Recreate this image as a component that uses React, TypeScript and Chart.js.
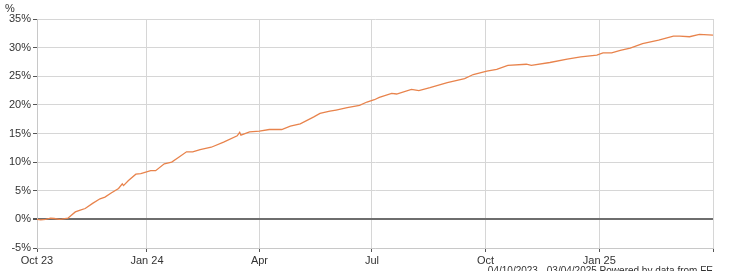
import React, { useEffect, useRef } from "react";
import { Chart, registerables } from "chart.js";

Chart.register(...registerables);

const START_DATE = "2023-10-04";
const END_DATE = "2025-04-03";

const dates: string[] = [
  "2023-10-04", "2023-10-07", "2023-10-11", "2023-10-15", "2023-10-18", "2023-10-22",
  "2023-10-24", "2023-10-29", "2023-11-04", "2023-11-08", "2023-11-12", "2023-11-18",
  "2023-11-24", "2023-11-28", "2023-12-03", "2023-12-09", "2023-12-12", "2023-12-13",
  "2023-12-17", "2023-12-23", "2023-12-27", "2024-01-04", "2024-01-08", "2024-01-15",
  "2024-01-21", "2024-01-27", "2024-02-02", "2024-02-07", "2024-02-13", "2024-02-22",
  "2024-03-03", "2024-03-14", "2024-03-16", "2024-03-17", "2024-03-24", "2024-04-01",
  "2024-04-09", "2024-04-19", "2024-04-26", "2024-05-04", "2024-05-15", "2024-05-20",
  "2024-05-28", "2024-06-02", "2024-06-11", "2024-06-21", "2024-06-27", "2024-07-03",
  "2024-07-07", "2024-07-17", "2024-07-21", "2024-08-02", "2024-08-08", "2024-08-17",
  "2024-08-31", "2024-09-14", "2024-09-21", "2024-10-02", "2024-10-10", "2024-10-19",
  "2024-11-03", "2024-11-07", "2024-11-22", "2024-12-06", "2024-12-17", "2024-12-30",
  "2025-01-04", "2025-01-11", "2025-01-18", "2025-01-26", "2025-02-05", "2025-02-18",
  "2025-03-02", "2025-03-07", "2025-03-15", "2025-03-23", "2025-04-03",
];

const values: number[] = [
  0.0, -0.1, 0.0, 0.2, 0.15, 0.0,
  0.05, 0.2, 1.3, 1.6, 1.9, 2.8,
  3.6, 3.9, 4.6, 5.4, 6.2, 5.9,
  6.8, 7.9, 8.0, 8.5, 8.5, 9.7,
  10.0, 10.9, 11.8, 11.8, 12.2, 12.6,
  13.5, 14.6, 15.2, 14.7, 15.3, 15.4,
  15.7, 15.7, 16.3, 16.7, 17.9, 18.5,
  18.9, 19.1, 19.5, 19.9, 20.5, 20.9,
  21.3, 22.0, 21.9, 22.7, 22.5, 23.0,
  23.9, 24.6, 25.3, 25.9, 26.2, 26.9,
  27.1, 26.9, 27.4, 28.0, 28.4, 28.7,
  29.1, 29.1, 29.5, 29.9, 30.7, 31.3,
  32.0, 32.0, 31.9, 32.3, 32.2,
];

const tickDates: string[] = [
  "2023-10-04", "2024-01-01", "2024-04-01", "2024-07-01", "2024-10-01", "2025-01-01", "2025-04-03",
];
const tickLabels: string[] = ["Oct 23", "Jan 24", "Apr", "Jul", "Oct", "Jan 25", ""];

const yTicks: number[] = [-5, 0, 5, 10, 15, 20, 25, 30, 35];
const footerText = "04/10/2023 - 03/04/2025 Powered by data from FE";
const unitLabel = "%";

const DAY = 86400000;
const dayIndex = (s: string) => Math.round((Date.parse(s + "T00:00:00Z") - Date.parse(START_DATE + "T00:00:00Z")) / DAY);

export default function App() {
  const ref = useRef<HTMLCanvasElement | null>(null);

  useEffect(() => {
    if (!ref.current) return;
    const font = { family: "'Liberation Sans', Arial, sans-serif", size: 11 };
    const tickVals = tickDates.map(dayIndex);
    const textPlugin = {
      id: "extraText",
      afterDraw(chart: any) {
        const c = chart.ctx;
        c.save();
        c.fillStyle = "#333";
        c.font = "11px 'Liberation Sans', Arial, sans-serif";
        c.textBaseline = "alphabetic";
        c.textAlign = "left";
        c.fillText(unitLabel, 5, 12);
        c.font = "10px 'Liberation Sans', Arial, sans-serif";
        c.textAlign = "right";
        c.fillText(footerText, 713, 274);
        c.restore();
      },
    };
    const chart = new Chart(ref.current, {
      type: "line",
      data: {
        datasets: [
          {
            data: dates.map((d, i) => ({ x: dayIndex(d), y: values[i] })),
            borderColor: "#e8834c",
            borderWidth: 1.3,
            pointRadius: 0,
            tension: 0,
            fill: false,
          },
        ],
      },
      options: {
        animation: false,
        responsive: false,
        maintainAspectRatio: false,
        layout: { padding: { top: 19, right: 18, left: 0, bottom: 0 } },
        plugins: { legend: { display: false }, tooltip: { enabled: false } },
        scales: {
          x: {
            type: "linear",
            min: 0,
            max: dayIndex(END_DATE),
            afterBuildTicks: (axis: any) => {
              axis.ticks = tickVals.map((v) => ({ value: v }));
            },
            afterFit: (axis: any) => {
              axis.height = 23;
            },
            ticks: {
              autoSkip: false,
              maxRotation: 0,
              padding: 2,
              color: "#333",
              font,
              callback: (v: any) => {
                const i = tickVals.indexOf(Number(v));
                return i >= 0 ? tickLabels[i] : "";
              },
            },
            grid: { color: "#d6d6d6", tickColor: "#555", tickLength: 4, lineWidth: 1 },
            border: { color: "#c8c8c8" },
          },
          y: {
            min: -5,
            max: 35,
            afterBuildTicks: (axis: any) => {
              axis.ticks = yTicks.map((v) => ({ value: v }));
            },
            afterFit: (axis: any) => {
              axis.width = 37;
            },
            ticks: {
              padding: 2,
              color: "#333",
              font,
              callback: (v: any) => v + "%",
            },
            grid: {
              color: (ctx: any) => (ctx.tick && ctx.tick.value === 0 ? "#6e6e6e" : "#d6d6d6"),
              lineWidth: (ctx: any) => (ctx.tick && ctx.tick.value === 0 ? 2 : 1),
              tickColor: "#555",
              tickLength: 4,
            },
            border: { color: "#c8c8c8" },
          },
        },
      },
      plugins: [textPlugin],
    } as any);
    return () => chart.destroy();
  }, []);

  return (
    <div style={{ position: "fixed", left: 0, top: 0, width: 731, height: 271, background: "#fff" }}>
      <canvas ref={ref} width={731} height={271} style={{ width: 731, height: 271 }} />
    </div>
  );
}
